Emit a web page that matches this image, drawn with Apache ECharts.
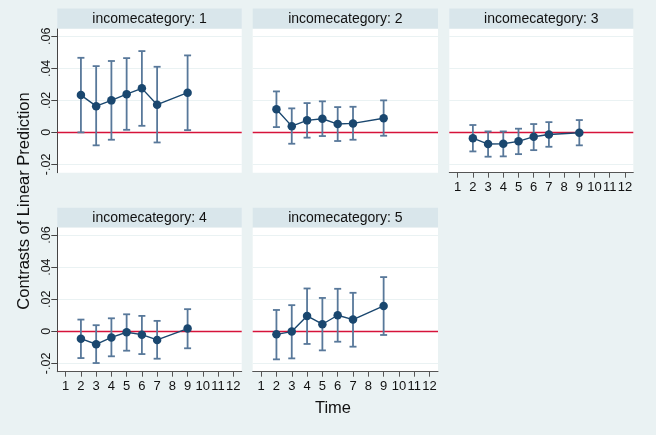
<!DOCTYPE html>
<html>
<head>
<meta charset="utf-8">
<script src="https://cdn.jsdelivr.net/npm/echarts@6/dist/echarts.min.js"></script>
<style>
html,body{margin:0;padding:0;background:#EAF2F3;}
#c{width:656px;height:435px;}
</style>
</head>
<body>
<div id="c"></div>
<script>
// ---- data ----
const times = [2, 3, 4, 5, 6, 7, 9];
const xTicks = [1, 2, 3, 4, 5, 6, 7, 8, 9, 10, 11, 12];
const yTicks = [-0.02, 0, 0.02, 0.04, 0.06];
const panelTitles = ['incomecategory: 1', 'incomecategory: 2', 'incomecategory: 3', 'incomecategory: 4', 'incomecategory: 5'];

const est1 = [0.0233, 0.0164, 0.0200, 0.0239, 0.0275, 0.0173, 0.0248];
const lo1  = [0.0000, -0.0081, -0.0046, 0.0016, 0.0041, -0.0063, 0.0014];
const hi1  = [0.0466, 0.0414, 0.0446, 0.0464, 0.0508, 0.0410, 0.0481];

const est2 = [0.0144, 0.0039, 0.0075, 0.0085, 0.0052, 0.0056, 0.0088];
const lo2  = [0.0033, -0.0071, -0.0033, -0.0023, -0.0054, -0.0046, -0.0021];
const hi2  = [0.0256, 0.0150, 0.0183, 0.0194, 0.0158, 0.0160, 0.0200];

const est3 = [-0.0036, -0.0073, -0.0071, -0.0056, -0.0027, -0.0013, -0.0002];
const lo3  = [-0.0119, -0.0152, -0.0150, -0.0136, -0.0111, -0.0090, -0.0081];
const hi3  = [0.0046, 0.0006, 0.0006, 0.0023, 0.0052, 0.0064, 0.0077];

const est4 = [-0.0046, -0.0081, -0.0038, -0.0006, -0.0021, -0.0054, 0.0017];
const lo4  = [-0.0167, -0.0198, -0.0156, -0.0121, -0.0142, -0.0171, -0.0106];
const hi4  = [0.0073, 0.0038, 0.0081, 0.0106, 0.0096, 0.0065, 0.0138];

const est5 = [-0.0019, -0.0002, 0.0096, 0.0044, 0.0100, 0.0073, 0.0158];
const lo5  = [-0.0175, -0.0169, -0.0079, -0.0119, -0.0065, -0.0096, -0.0023];
const hi5  = [0.0133, 0.0163, 0.0267, 0.0208, 0.0265, 0.0240, 0.0338];

const ests = [est1, est2, est3, est4, est5];
const los = [lo1, lo2, lo3, lo4, lo5];
const his = [hi1, hi2, hi3, hi4, hi5];

// ---- layout ----
const FONT = '"Liberation Sans", Arial, sans-serif';
const cols = [{left: 57.3, width: 184.4}, {left: 252.7, width: 185.3}, {left: 449.3, width: 184}];
const rows = [{top: 29, height: 143.7, strip: 8.5}, {top: 227.7, height: 144, strip: 207.7}];
const panelPos = [[0,0],[0,1],[0,2],[1,0],[1,1]];
const showY = [true, false, false, true, false];
const showX = [false, false, true, true, true];

const NAVY = '#1A476F';
const CI = '#58789A';
const RED = '#D6133A';

function fmtY(v) {
  if (Math.abs(v) < 1e-9) return '0';
  let s = v.toFixed(2);
  return s.replace('0.', '.');
}

const grids = [], xAxes = [], yAxes = [], series = [], graphics = [];
panelPos.forEach(([r, c], i) => {
  const col = cols[c], row = rows[r];
  grids.push({left: col.left, top: row.top, width: col.width, height: row.height,
    show: true, backgroundColor: '#FFFFFF', borderWidth: 0, containLabel: false});
  xAxes.push({
    type: 'value', gridIndex: i, min: 0.45, max: 12.55,
    axisLine: {show: showX[i], onZero: false, lineStyle: {color: '#555', width: 1}},
    axisTick: {show: showX[i], length: 5, customValues: xTicks, lineStyle: {color: '#555'}},
    axisLabel: {show: showX[i], customValues: xTicks, margin: 8, color: '#111', fontSize: 13, fontFamily: FONT,
      formatter: v => String(Math.round(v))},
    splitLine: {show: false}
  });
  yAxes.push({
    type: 'value', gridIndex: i, min: -0.0252, max: 0.0646,
    axisLine: {show: showY[i], lineStyle: {color: '#444', width: 1}},
    axisTick: {show: showY[i], length: 6, customValues: yTicks, lineStyle: {color: '#444'}},
    axisLabel: {show: showY[i], customValues: yTicks, rotate: 90, margin: 4, color: '#111', fontSize: 12.5, fontFamily: FONT,
      formatter: fmtY},
    splitLine: {show: true, lineStyle: {color: '#EAF2F3', width: 1}}
  });
  const lineData = times.map((t, k) => [t, ests[i][k]]);
  const ciData = times.map((t, k) => [t, los[i][k], his[i][k]]);
  series.push({
    type: 'custom', xAxisIndex: i, yAxisIndex: i, data: ciData, z: 3,
    renderItem: function (params, api) {
      const x = api.value(0), lo = api.value(1), hi = api.value(2);
      const pLo = api.coord([x, lo]), pHi = api.coord([x, hi]);
      const cw = 3.5;
      const style = {stroke: CI, lineWidth: 1.8};
      return {type: 'group', children: [
        {type: 'line', shape: {x1: pLo[0], y1: pLo[1], x2: pHi[0], y2: pHi[1]}, style: style},
        {type: 'line', shape: {x1: pLo[0]-cw, y1: pLo[1], x2: pLo[0]+cw, y2: pLo[1]}, style: style},
        {type: 'line', shape: {x1: pHi[0]-cw, y1: pHi[1], x2: pHi[0]+cw, y2: pHi[1]}, style: style}
      ]};
    },
    silent: true, animation: false
  });
  series.push({
    type: 'line', xAxisIndex: i, yAxisIndex: i, data: lineData, z: 4,
    symbol: 'circle', symbolSize: 8.5,
    itemStyle: {color: NAVY}, lineStyle: {color: NAVY, width: 1.4},
    silent: true, animation: false,
    markLine: {silent: true, symbol: 'none', label: {show: false}, animation: false,
      lineStyle: {color: RED, width: 1.3, type: 'solid'}, data: [{yAxis: 0}], z: 2}
  });
  graphics.push({type: 'rect', shape: {x: col.left, y: row.strip, width: col.width, height: row.top - row.strip - 0.5},
    style: {fill: '#D9E6EB'}, silent: true});
  graphics.push({type: 'text', x: col.left + col.width / 2, y: row.strip + (row.top - row.strip) / 2,
    style: {text: panelTitles[i], fill: '#111', font: '14px ' + FONT, align: 'center', verticalAlign: 'middle'}});
});

graphics.push({type: 'text', x: 24, y: 201, rotation: Math.PI / 2,
  style: {text: 'Contrasts of Linear Prediction', fill: '#111', font: '16.5px ' + FONT, align: 'center', verticalAlign: 'middle'}});
graphics.push({type: 'text', x: 333, y: 408,
  style: {text: 'Time', fill: '#111', font: '16.5px ' + FONT, align: 'center', verticalAlign: 'middle'}});

const chart = echarts.init(document.getElementById('c'), null, {renderer: 'canvas'});
chart.setOption({
  backgroundColor: '#EAF2F3',
  animation: false,
  grid: grids, xAxis: xAxes, yAxis: yAxes, series: series,
  graphic: graphics
});
</script>
</body>
</html>
